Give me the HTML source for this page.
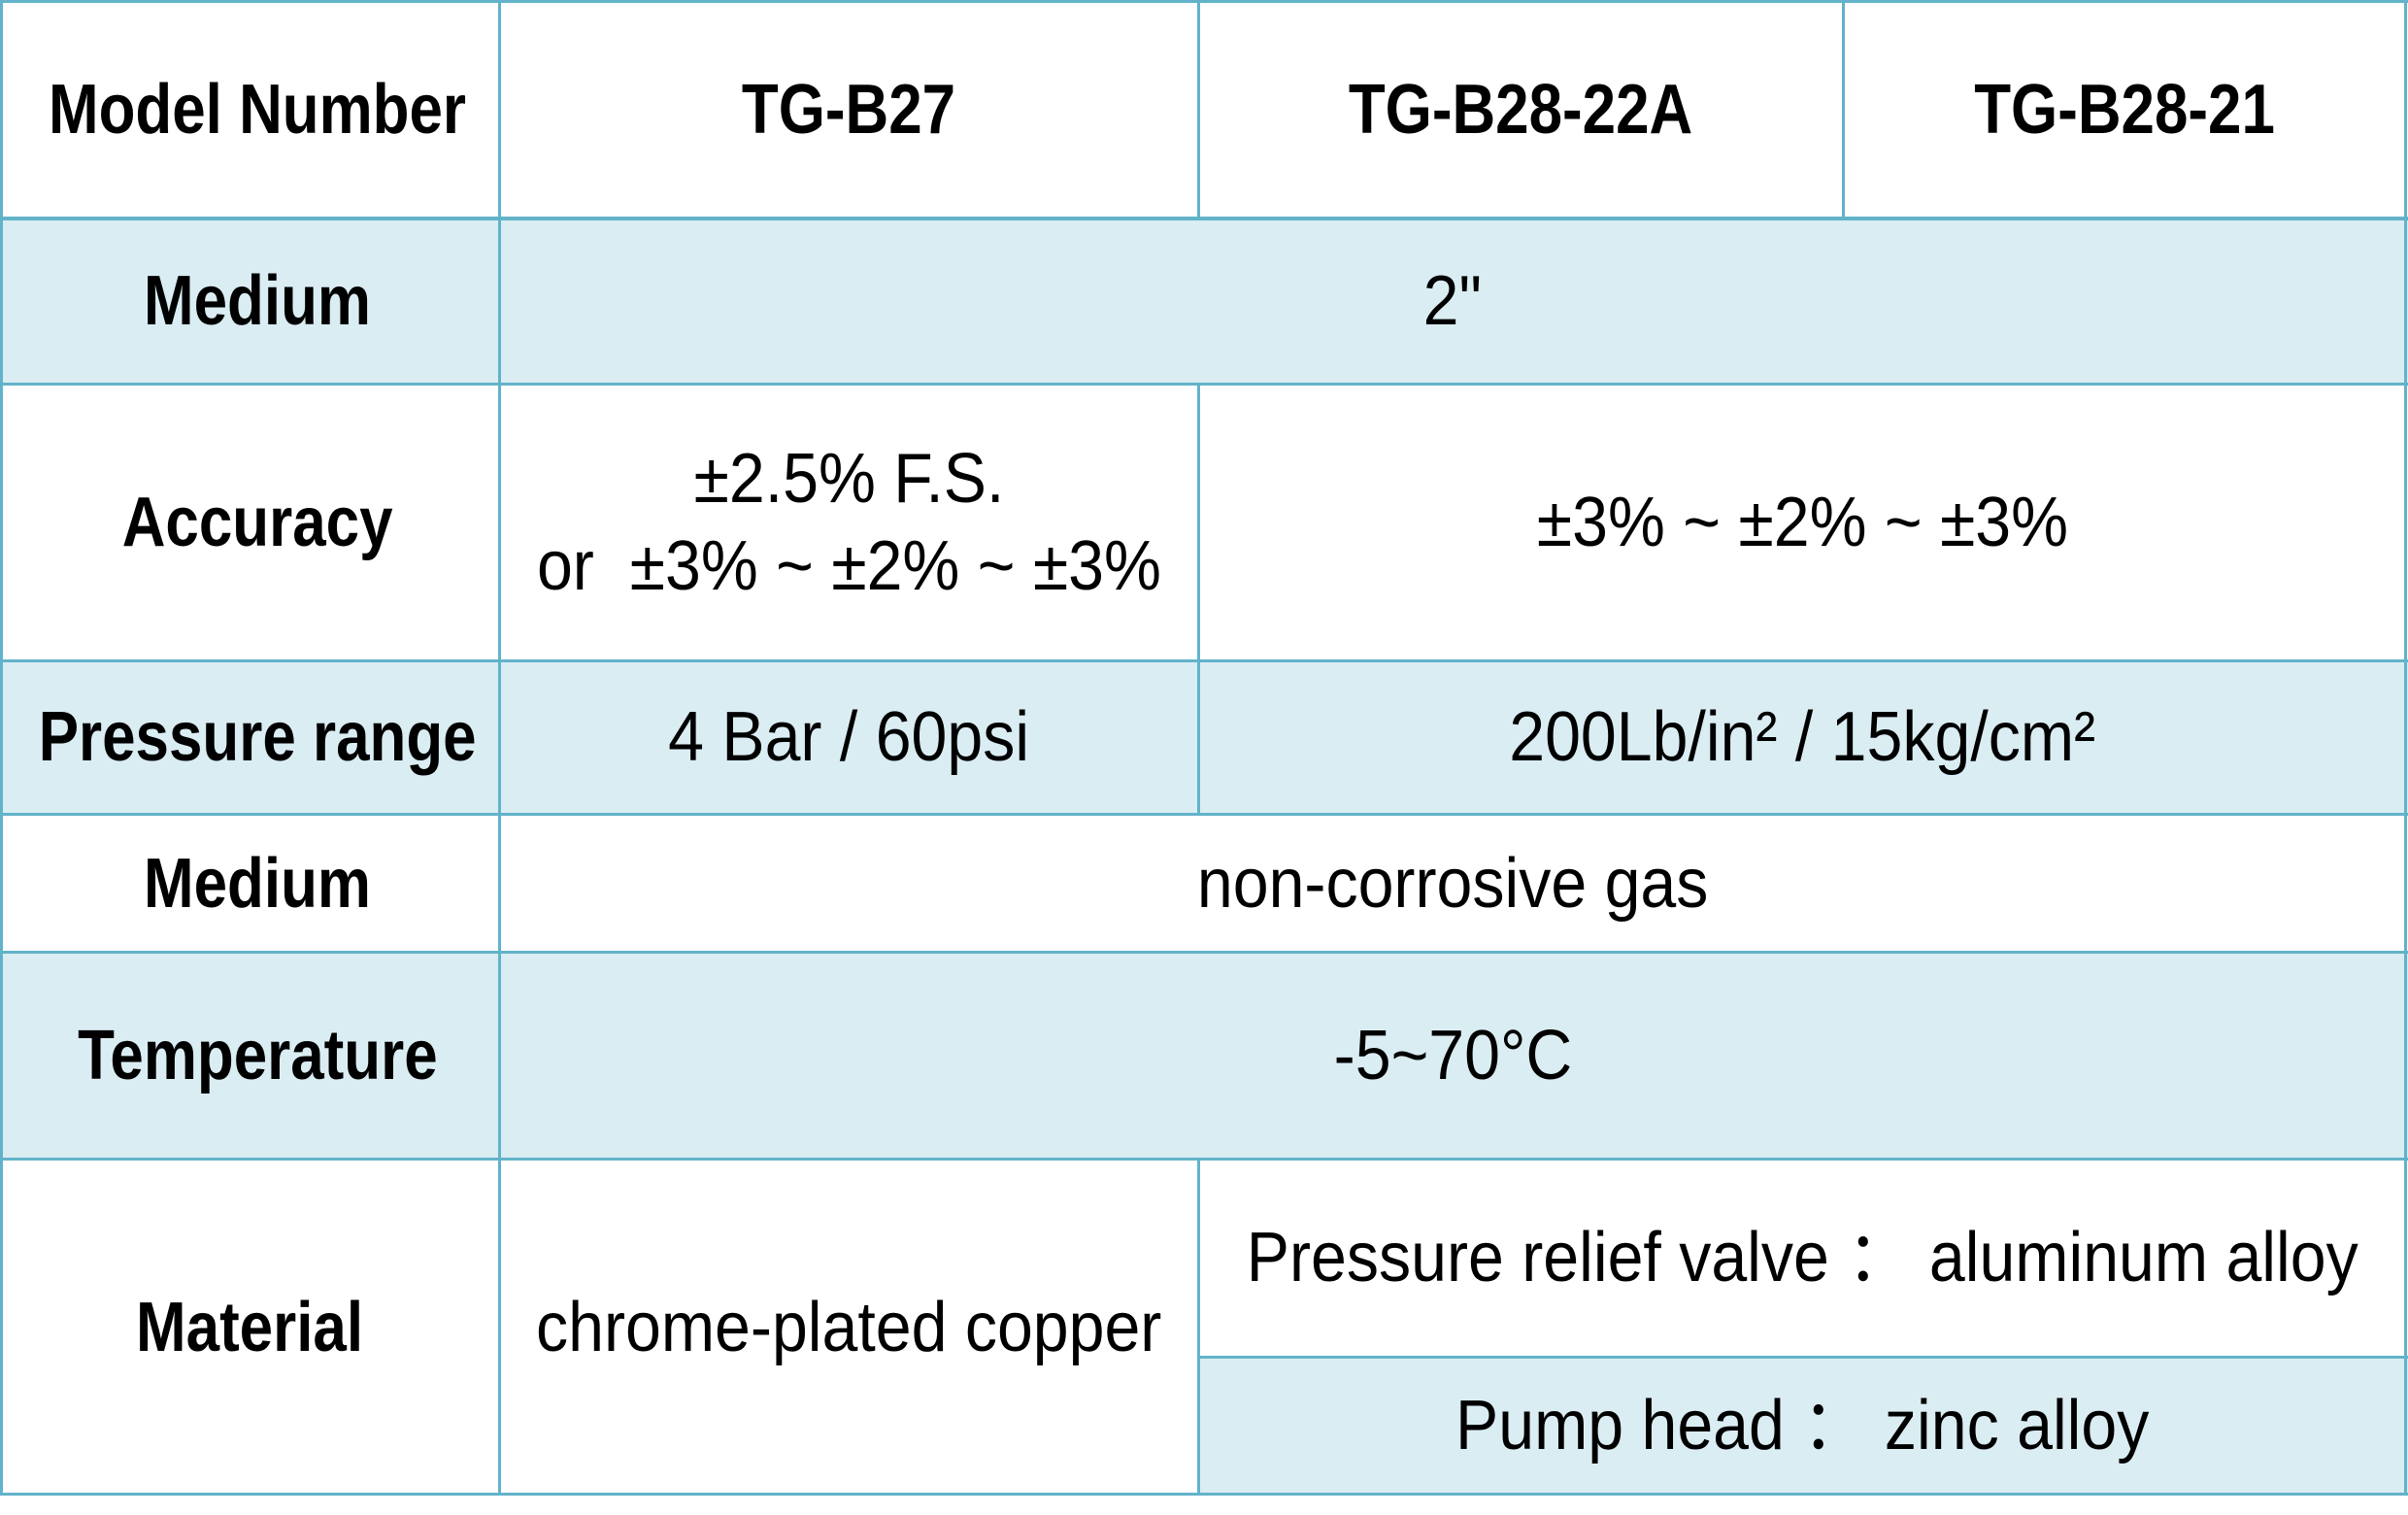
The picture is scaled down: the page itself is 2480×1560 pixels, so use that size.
<!DOCTYPE html>
<html><head><meta charset="utf-8"><style>
body{margin:0;width:2480px;height:1560px;background:#fff;position:relative;overflow:hidden;font-family:"Liberation Sans",sans-serif;color:#000}
.bg{position:absolute;background:#daedf3}
.h{position:absolute;height:3px;background:#62b3c9}
.v{position:absolute;width:3px;background:#62b3c9}
.t{position:absolute;display:flex;align-items:center;justify-content:center;text-align:center;font-size:72px;line-height:90px;white-space:nowrap}
.t span{display:inline-block;transform:scaleX(0.92)}
.b{font-weight:bold;font-size:72px}
.b span{transform:scaleX(0.86)}
</style></head><body>
<div class="bg" style="left:0;top:225px;width:2480px;height:170px"></div>
<div class="bg" style="left:0;top:680px;width:2480px;height:158px"></div>
<div class="bg" style="left:0;top:981px;width:2480px;height:212px"></div>
<div class="bg" style="left:1234px;top:1397px;width:1246px;height:141px"></div>

<div class="h" style="left:0;top:0;width:2480px"></div>
<div class="h" style="left:0;top:223px;width:2480px;height:4px"></div>
<div class="h" style="left:0;top:394px;width:2480px"></div>
<div class="h" style="left:0;top:679px;width:2480px"></div>
<div class="h" style="left:0;top:837px;width:2480px"></div>
<div class="h" style="left:0;top:979px;width:2480px"></div>
<div class="h" style="left:0;top:1192px;width:2480px"></div>
<div class="h" style="left:1234px;top:1396px;width:1246px"></div>
<div class="h" style="left:0;top:1537px;width:2480px"></div>
<div class="v" style="left:0;top:0;height:1540px"></div>
<div class="v" style="left:513px;top:0;height:1540px"></div>
<div class="v" style="left:1233px;top:0;height:225px"></div>
<div class="v" style="left:1233px;top:395px;height:443px"></div>
<div class="v" style="left:1233px;top:1193px;height:347px"></div>
<div class="v" style="left:1897px;top:0;height:225px"></div>
<div class="v" style="left:2476px;top:0;height:1540px"></div>

<div class="t b" style="left:0;top:0;width:530px;height:225px"><span>Model Number</span></div>
<div class="t b" style="left:514px;top:0;width:720px;height:225px"><span>TG-B27</span></div>
<div class="t b" style="left:1234px;top:0;width:664px;height:225px"><span>TG-B28-22A</span></div>
<div class="t b" style="left:1898px;top:0;width:580px;height:225px"><span>TG-B28-21</span></div>

<div class="t b" style="left:0;top:225px;width:530px;height:170px"><span>Medium</span></div>
<div class="t" style="left:514px;top:225px;width:1964px;height:170px"><span>2"</span></div>

<div class="t b" style="left:0;top:395px;width:530px;height:285px"><span>Accuracy</span></div>
<div class="t" style="left:514px;top:395px;width:720px;height:285px"><span>±2.5% F.S.<br>or&nbsp; ±3% ~ ±2% ~ ±3%</span></div>
<div class="t" style="left:1234px;top:395px;width:1244px;height:285px"><span>±3% ~ ±2% ~ ±3%</span></div>

<div class="t b" style="left:0;top:680px;width:530px;height:158px"><span>Pressure range</span></div>
<div class="t" style="left:514px;top:680px;width:720px;height:158px"><span>4 Bar / 60psi</span></div>
<div class="t" style="left:1234px;top:680px;width:1244px;height:158px"><span>200Lb/in² / 15kg/cm²</span></div>

<div class="t b" style="left:0;top:838px;width:530px;height:143px"><span>Medium</span></div>
<div class="t" style="left:514px;top:838px;width:1964px;height:143px"><span>non-corrosive gas</span></div>

<div class="t b" style="left:0;top:981px;width:530px;height:212px"><span>Temperature</span></div>
<div class="t" style="left:514px;top:981px;width:1964px;height:212px"><span>-5~70°C</span></div>

<div class="t b" style="left:0;top:1193px;width:514px;height:347px"><span>Material</span></div>
<div class="t" style="left:514px;top:1193px;width:720px;height:347px"><span>chrome-plated copper</span></div>
<div class="t" style="left:1234px;top:1193px;width:1244px;height:204px"><span>Pressure relief valve ： aluminum alloy</span></div>
<div class="t" style="left:1234px;top:1397px;width:1244px;height:141px"><span>Pump head ： zinc alloy</span></div>
</body></html>
